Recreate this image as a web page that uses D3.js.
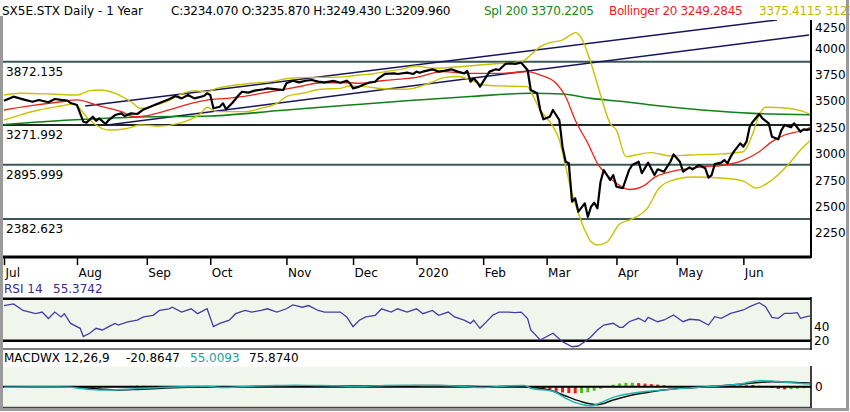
<!DOCTYPE html>
<html>
<head>
<meta charset="utf-8">
<script src="https://cdn.jsdelivr.net/npm/d3@7"></script>
<style>
  body { margin: 0; background: #fff; }
  svg { display: block; font-family: "DejaVu Sans", Verdana, sans-serif; }
</style>
</head>
<body>
<svg id="chart" width="850" height="412"></svg>
<script>
// data, x = trading day counted from 1 Jul 2019
const monthLabels = ["Jul", "Aug", "Sep", "Oct", "Nov", "Dec", "2020", "Feb", "Mar", "Apr", "May", "Jun"];
const monthDays = [0, 23, 45, 65, 89, 110, 130, 151, 171, 193, 212, 233];

const priceTicks = [2250, 2500, 2750, 3000, 3250, 3500, 3750, 4000, 4250];
const levels = [3872.135, 3271.992, 2895.999, 2382.623];

// [day, close]
const priceClose = [[0,3503],[3,3541],[6,3516],[9,3493],[11,3510],[14,3488],[16,3519],[18,3510],[20,3503],[21,3481],
  [23,3462],[25,3304],[26,3295],[28,3351],[29,3313],[30,3336],[32,3282],[33,3320],[35,3367],[37,3383],
  [38,3358],[40,3383],[42,3377],[44,3421],[45,3431],[48,3469],[50,3493],[52,3516],[54,3547],[56,3525],
  [58,3557],[60,3525],[63,3547],[64,3573],[65,3557],[66,3431],[68,3446],[69,3478],[70,3421],[72,3484],
  [74,3557],[75,3588],[77,3579],[79,3598],[82,3611],[83,3620],[86,3611],[88,3604],[89,3668],[91,3692],
  [93,3677],[95,3692],[97,3699],[99,3683],[101,3677],[104,3690],[106,3673],[108,3692],[109,3668],[110,3620],
  [112,3636],[113,3652],[115,3673],[117,3683],[118,3715],[120,3756],[123,3762],[124,3756],[127,3768],[129,3756],
  [130,3778],[131,3768],[132,3778],[135,3800],[137,3778],[139,3787],[141,3800],[143,3778],[145,3762],[146,3784],
  [147,3683],[148,3715],[149,3683],[150,3636],[151,3683],[153,3778],[155,3800],[156,3794],[158,3851],[160,3857],
  [161,3851],[163,3863],[165,3794],[166,3604],[168,3573],[169,3415],[170,3327],[172,3351],[173,3415],[175,3320],
  [176,3068],[177,2925],[178,2910],[179,2546],[180,2579],[181,2452],[183,2531],[184,2404],[185,2499],[186,2537],
  [187,2484],[188,2736],[189,2847],[191,2752],[192,2799],[193,2689],[195,2674],[197,2847],[198,2894],[200,2925],
  [201,2816],[203,2916],[205,2799],[206,2853],[208,2831],[210,2925],[211,2995],[213,2925],[214,2831],[216,2872],
  [217,2853],[219,2894],[221,2863],[222,2774],[223,2799],[224,2903],[226,2916],[227,2941],[228,2910],[229,2973],
  [230,3020],[232,3099],[233,3068],[234,3115],[235,3257],[236,3304],[238,3377],[239,3336],[241,3289],[242,3162],
  [244,3137],[245,3225],[246,3273],[248,3251],[249,3289],[251,3209],[252,3232],[253,3225],[254,3234]];

const sma200 = [[0,3277],[21,3320],[43,3348],[65,3358],[87,3410],[109,3462],[130,3509],[147,3543],[166,3573],
  [176,3566],[185,3525],[195,3495],[204,3462],[220,3415],[236,3383],[254,3370]];

const sma20 = [[0,3415],[8,3453],[18,3493],[23,3510],[30,3453],[37,3399],[41,3351],[46,3367],[52,3415],[59,3478],
  [64,3509],[70,3525],[75,3541],[81,3573],[87,3604],[94,3642],[100,3673],[108,3673],[112,3668],[119,3692],
  [125,3708],[130,3724],[138,3778],[147,3762],[157,3762],[165,3778],[169,3746],[174,3668],[177,3541],[180,3320],
  [184,3099],[187,2910],[190,2799],[193,2721],[197,2662],[202,2704],[205,2777],[209,2821],[214,2853],[221,2878],
  [227,2894],[233,2941],[238,3020],[242,3115],[246,3178],[251,3216],[254,3249]];

const bandUpper = [[0,3557],[5,3573],[15,3566],[23,3557],[27,3598],[30,3604],[35,3573],[40,3493],[43,3431],[46,3446],
  [51,3493],[57,3579],[60,3598],[64,3588],[67,3620],[71,3642],[78,3668],[84,3683],[90,3715],[97,3724],
  [103,3724],[108,3731],[112,3746],[116,3756],[120,3778],[125,3800],[130,3831],[135,3810],[144,3825],[150,3841],
  [157,3857],[163,3872],[166,3936],[169,4015],[172,4052],[176,4078],[179,4134],[180,4147],[182,4094],[185,3857],
  [188,3557],[191,3289],[193,3225],[196,2973],[199,2989],[204,3011],[210,2980],[216,2989],[226,2999],[233,3020],
  [236,3194],[238,3367],[240,3441],[247,3431],[251,3409],[254,3375]];

const bandLower = [[0,3320],[5,3367],[11,3415],[18,3453],[22,3472],[26,3351],[29,3273],[33,3225],[38,3235],[43,3273],
  [49,3263],[56,3295],[62,3383],[64,3441],[67,3399],[76,3399],[81,3431],[86,3478],[89,3541],[94,3573],
  [100,3611],[106,3620],[109,3642],[114,3636],[120,3614],[126,3611],[129,3620],[134,3668],[139,3724],[143,3732],
  [147,3699],[151,3652],[158,3642],[165,3636],[166,3588],[169,3415],[173,3257],[175,3131],[177,2878],[179,2626],
  [181,2437],[183,2279],[185,2168],[187,2137],[190,2165],[194,2335],[198,2383],[203,2496],[206,2657],[210,2743],
  [217,2780],[226,2771],[233,2742],[237,2676],[242,2752],[247,2894],[251,3036],[254,3123]];

// hand-drawn trend channel: [startDay, startValue, endDay, endValue]
const trendLines = [[25.6, 3453, 243.6, 4267], [32.5, 3273, 253.7, 4125]];

const rsi = [[0,70.2],[3,72.6],[6,63.2],[10,58.6],[12,60.9],[14,51.7],[16,60.9],[18,53.9],[19,58.6],[21,44.7],
  [24,37.7],[25,26],[27,30.7],[29,37.7],[31,35.3],[33,40],[35,44.7],[36,42.3],[39,46.9],[42,49.3],
  [44,53.9],[47,56.3],[49,63.2],[52,65.6],[53,67.8],[56,60.9],[59,65.6],[61,58.6],[64,65.6],[66,40],
  [68,44.7],[71,49.3],[73,58.6],[76,63.2],[78,60.9],[81,63.2],[83,65.6],[86,60.9],[89,65.6],[91,71.2],
  [94,67.8],[96,70.2],[99,63.2],[101,60.9],[104,60.9],[106,60.9],[108,53.9],[110,40],[112,49.3],[114,53.9],
  [117,56.3],[119,65.6],[122,60.9],[124,65.6],[127,60.9],[130,65.6],[132,58.6],[135,63.2],[137,56.3],[140,60.9],
  [142,53.9],[145,49.3],[147,44.7],[148,49.3],[150,37.7],[152,46.9],[154,56.3],[156,60.9],[159,60.9],[161,60],
  [163,60.9],[165,51.7],[166,35.3],[169,21],[173,30.6],[176,18.6],[179,11.4],[181,12.4],[183,18.6],[185,25.7],
  [187,35.3],[189,42.4],[192,44.9],[194,39.1],[195,39.1],[197,47.1],[200,52],[202,47.1],[203,53.4],[206,47.1],
  [208,49.6],[211,56.7],[214,47.1],[216,50.6],[219,49.6],[222,42.4],[224,54.3],[226,52],[229,59.1],[233,63.9],
  [235,68.6],[238,74.3],[240,68.6],[242,53.4],[244,52],[246,59.1],[248,59.1],[250,60],[251,52],[252,53.4],[254,55.4]];

const macdLine = [[0,-10],[8,-5],[16,-5],[21,-12],[24,-35],[27,-55],[30,-68],[34,-65],[38,-52],[42,-38],
  [48,-20],[54,-5],[60,5],[64,10],[67,-10],[70,-15],[75,0],[80,15],[86,25],[92,30],[98,25],[104,20],
  [110,5],[114,10],[120,25],[126,30],[132,25],[138,25],[144,10],[148,-10],[151,-15],[156,5],[160,20],[164,25],
  [166,-32],[173,-92],[177,-232],[180,-320],[185,-380],[188,-320],[192,-212],[198,-132],[204,-86],[210,-52],
  [219,-12],[225,14],[232,54],[238,120],[242,114],[248,80],[254,55]];

const macdSignal = [[0,-5],[10,-5],[20,-8],[26,-25],[30,-45],[36,-66],[42,-55],[50,-32],[58,-12],[66,0],
  [72,-5],[80,5],[90,18],[100,22],[110,15],[118,15],[126,22],[136,25],[146,10],[154,0],[160,8],
  [166,-12],[173,-86],[177,-186],[182,-300],[187,-360],[192,-266],[198,-166],[204,-100],[210,-52],[217,-20],
  [225,14],[233,54],[242,100],[248,88],[254,76]];

// histogram, one bar every second trading day from day 0
const histDays = d3.range(0, 255, 2);
const histVals = [-5,-8,-10,-8,-5,-3,-5,-8,-6,-4,-6,
  -10,-20,-30,-35,-30,
  -20,-10,0,10,20,25,20,
  18,15,12,10,8,6,5,3,
  0,-10,-15,-10,-5,
  5,10,15,18,15,12,10,8,6,5,
  3,0,-3,-5,-4,-3,-2,-4,-5,
  -15,-12,-5,0,5,10,
  10,8,6,4,2,0,-2,0,2,0,
  -2,-8,-15,-20,-18,-10,
  0,8,12,15,12,8,
  -10,-30,-55,-80,-100,-115,-125,-133,-128,-110,-80,-40,10,40,65,78,80,72,62,52,42,30,15,0,
  -8,-10,-8,-5,-3,5,15,25,30,35,38,35,20,0,-25,-45,-55,-50,-40,-30,-21];

// layout
const plotL = 3, plotR = 811;
const mainTop = 20, mainBot = 257;
const font = "DejaVu Sans";

const svg = d3.select("#chart");

const x = d3.scaleLinear().domain([0, 254]).range([4, 810]);
const y = d3.scaleLinear().domain([2023, 4267]).range([mainBot, mainTop]);
const yRsi = d3.scaleLinear().domain([20, 80]).range([340.7, 298.7]);
const yMacd = d3.scaleLinear().domain([-400, 400]).range([406.7, 366.7]);

// header
const header = svg.append("g").attr("font-size", 12).attr("font-family", font)
  .attr("xml:space", "preserve");
header.append("text").attr("x", 2).attr("y", 15).attr("fill", "#000").text("SX5E.STX Daily -  1 Year");
header.append("text").attr("x", 171).attr("y", 15).attr("fill", "#000").attr("letter-spacing", -0.25)
  .text("C:3234.070 O:3235.870 H:3249.430 L:3209.960");
header.append("text").attr("x", 484).attr("y", 15).attr("fill", "#138a13").attr("letter-spacing", -0.25)
  .text("Spl 200 3370.2205");
header.append("text").attr("x", 609).attr("y", 15).attr("fill", "#f01c1c").attr("letter-spacing", -0.35)
  .text("Bollinger 20 3249.2845");
header.append("text").attr("x", 759).attr("y", 15).attr("fill", "#c2b800").attr("letter-spacing", -0.25)
  .text("3375.4115 3123.1575");

// main panel
svg.append("clipPath").attr("id", "clipMain")
  .append("rect").attr("x", plotL).attr("y", mainTop)
  .attr("width", plotR - plotL).attr("height", mainBot - mainTop);

const main = svg.append("g").attr("clip-path", "url(#clipMain)");

main.selectAll("line.level")
  .data(levels).enter()
  .append("line")
  .attr("class", "level")
  .attr("x1", plotL).attr("x2", plotR)
  .attr("y1", d => y(d)).attr("y2", d => y(d))
  .attr("stroke", (d, i) => i == 1 ? "#1e2626" : "#3b5757")
  .attr("stroke-width", 2);

main.selectAll("line.trend")
  .data(trendLines).enter()
  .append("line")
  .attr("class", "trend")
  .attr("x1", d => x(d[0])).attr("y1", d => y(d[1]))
  .attr("x2", d => x(d[2])).attr("y2", d => y(d[3]))
  .attr("stroke", "#16165e")
  .attr("stroke-width", 1.5);

const smooth = d3.line().x(d => x(d[0])).y(d => y(d[1])).curve(d3.curveMonotoneX);
const straight = d3.line().x(d => x(d[0])).y(d => y(d[1]));

[[sma200, "#12801a", 1.6], [bandUpper, "#c9c200", 1.4], [bandLower, "#c9c200", 1.4], [sma20, "#ee2418", 1.3]]
  .forEach(s => {
    main.append("path").datum(s[0])
      .attr("d", smooth)
      .attr("fill", "none")
      .attr("stroke", s[1])
      .attr("stroke-width", s[2]);
  });

main.append("path").datum(priceClose)
  .attr("d", straight)
  .attr("fill", "none")
  .attr("stroke", "#000")
  .attr("stroke-width", 2.2)
  .attr("stroke-linejoin", "round");

// level labels on the left
svg.selectAll("text.levelLabel")
  .data(levels).enter()
  .append("text")
  .attr("class", "levelLabel")
  .attr("x", 6)
  .attr("y", d => y(d) + 14)
  .attr("font-size", 12)
  .attr("font-family", font)
  .text(d => d.toFixed(3));

// right price axis
const yAxis = d3.axisRight(y).tickValues(priceTicks).tickFormat(d3.format("d"))
  .tickSize(0).tickPadding(4);
const gy = svg.append("g").attr("transform", "translate(" + plotR + ",0)").call(yAxis);
gy.attr("font-size", 12).attr("font-family", font);
gy.select(".domain").remove();
gy.selectAll(".tick").filter(d => y(d) < 26).select("text").attr("y", 6);
svg.append("line")
  .attr("x1", plotR).attr("x2", plotR).attr("y1", mainTop).attr("y2", mainBot + 1)
  .attr("stroke", "#000").attr("stroke-width", 2);

// month axis
const xAxis = d3.axisBottom(x).tickValues(monthDays)
  .tickFormat((d, i) => monthLabels[i]).tickSize(8).tickPadding(3);
const gx = svg.append("g").attr("transform", "translate(0," + mainBot + ")").call(xAxis);
gx.attr("font-size", 12).attr("font-family", font);
gx.select(".domain").remove();
gx.selectAll(".tick line").attr("stroke-width", 1.5);
gx.selectAll(".tick text").attr("text-anchor", "start").attr("x", 1);
svg.append("line")
  .attr("x1", plotL).attr("x2", plotR).attr("y1", mainBot).attr("y2", mainBot)
  .attr("stroke", "#000").attr("stroke-width", 3);

// RSI panel
const rsiLabel = svg.append("text").attr("y", 293).attr("font-size", 12).attr("font-family", font)
  .attr("fill", "#3b2a8c");
rsiLabel.append("tspan").attr("x", 4).text("RSI 14");
rsiLabel.append("tspan").attr("x", 53).text("55.3742");

svg.append("rect")
  .attr("x", plotL).attr("y", yRsi(80))
  .attr("width", plotR - plotL).attr("height", yRsi(20) - yRsi(80))
  .attr("fill", "#f1f6ec");
svg.append("line")
  .attr("x1", plotL).attr("x2", plotR).attr("y1", 349).attr("y2", 349)
  .attr("stroke", "#555").attr("stroke-width", 1.5);
svg.selectAll("line.rsiBand")
  .data([80, 20]).enter()
  .append("line")
  .attr("class", "rsiBand")
  .attr("x1", plotL).attr("x2", plotR)
  .attr("y1", d => yRsi(d)).attr("y2", d => yRsi(d))
  .attr("stroke", "#000").attr("stroke-width", 2.5);

svg.append("path").datum(rsi)
  .attr("d", d3.line().x(d => x(d[0])).y(d => yRsi(d[1])))
  .attr("fill", "none")
  .attr("stroke", "#4a38a6")
  .attr("stroke-width", 1.3);

const rsiAxis = d3.axisRight(yRsi).tickValues([20, 40]).tickSize(0).tickPadding(3);
const gr = svg.append("g").attr("transform", "translate(" + plotR + ",0)").call(rsiAxis);
gr.attr("font-size", 12).attr("font-family", font);
gr.select(".domain").remove();
svg.append("line")
  .attr("x1", plotR).attr("x2", plotR).attr("y1", 297).attr("y2", 350)
  .attr("stroke", "#000").attr("stroke-width", 1.5);

// MACD panel
const macdLabel = svg.append("text").attr("y", 362).attr("font-size", 12).attr("font-family", font);
macdLabel.append("tspan").attr("x", 4).attr("fill", "#000").text("MACDWX 12,26,9");
macdLabel.append("tspan").attr("x", 126).attr("fill", "#000").text("-20.8647");
macdLabel.append("tspan").attr("x", 190).attr("fill", "#1a9e9e").text("55.0093");
macdLabel.append("tspan").attr("x", 249).attr("fill", "#000").text("75.8740");

svg.append("rect")
  .attr("x", plotL).attr("y", yMacd(400))
  .attr("width", plotR - plotL).attr("height", yMacd(-400) - yMacd(400))
  .attr("fill", "#f1f6ec");

svg.selectAll("rect.hist")
  .data(histVals).enter()
  .append("rect")
  .attr("class", "hist")
  .attr("x", (d, i) => x(histDays[i]) - 1.5)
  .attr("width", 3)
  .attr("y", d => Math.min(yMacd(d), yMacd(0)))
  .attr("height", d => Math.abs(yMacd(d) - yMacd(0)))
  .attr("fill", (d, i) => (i > 0 ? d >= histVals[i - 1] : d >= 0) ? "#4cbf1c" : "#f01818");

svg.append("line")
  .attr("x1", plotL).attr("x2", plotR).attr("y1", yMacd(0)).attr("y2", yMacd(0))
  .attr("stroke", "#000").attr("stroke-width", 2);

const macdPath = d3.line().x(d => x(d[0])).y(d => yMacd(d[1])).curve(d3.curveMonotoneX);
svg.append("path").datum(macdSignal)
  .attr("d", macdPath).attr("fill", "none").attr("stroke", "#111").attr("stroke-width", 1.4);
svg.append("path").datum(macdLine)
  .attr("d", macdPath).attr("fill", "none").attr("stroke", "#1fb4b4").attr("stroke-width", 1.4);

const macdAxis = d3.axisRight(yMacd).tickValues([0]).tickSize(0).tickPadding(4);
const gm = svg.append("g").attr("transform", "translate(" + plotR + ",0)").call(macdAxis);
gm.attr("font-size", 12).attr("font-family", font);
gm.select(".domain").remove();
svg.append("line")
  .attr("x1", plotR).attr("x2", plotR).attr("y1", 366).attr("y2", 408)
  .attr("stroke", "#000").attr("stroke-width", 1.5);
svg.append("line")
  .attr("x1", plotL).attr("x2", plotR).attr("y1", 407.5).attr("y2", 407.5)
  .attr("stroke", "#444").attr("stroke-width", 1.5);

// outer grey frame
svg.append("path")
  .attr("d", "M1.5,16 V409.5 H847.5 V0")
  .attr("fill", "none")
  .attr("stroke", "#9a9a9a")
  .attr("stroke-width", 3);
</script>
</body>
</html>
